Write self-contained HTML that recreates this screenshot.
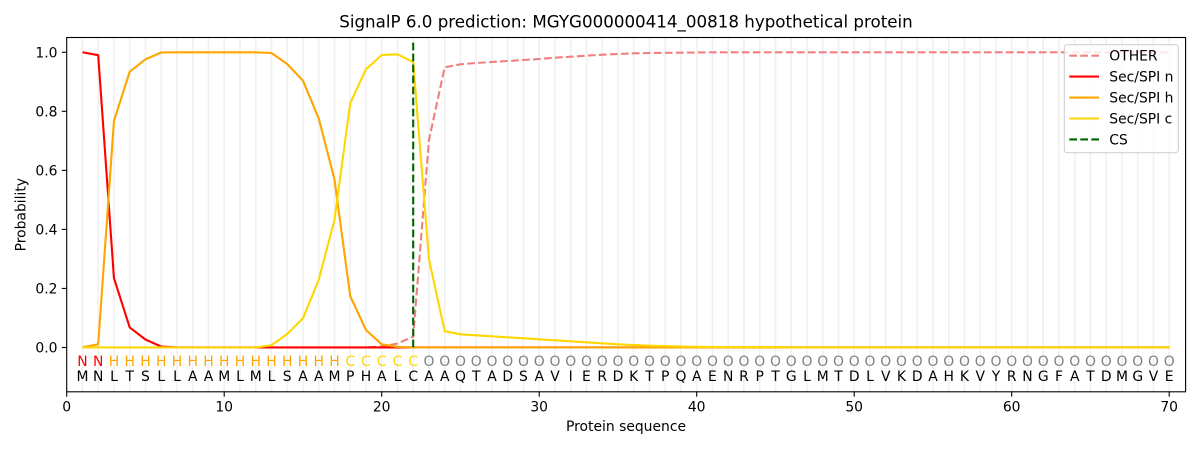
<!DOCTYPE html>
<html><head><meta charset="utf-8"><style>
html,body{margin:0;padding:0;background:#fff;}
svg{display:block;font-family:"DejaVu Sans","Liberation Sans",sans-serif;}
</style></head><body>
<svg width="1200" height="450" viewBox="0 0 1200 450" xmlns="http://www.w3.org/2000/svg">
<rect width="1200" height="450" fill="#fff"/>
<!-- grid -->
<g stroke="#f0f0f0" stroke-width="1.6">
<line x1="82.45" y1="37.5" x2="82.45" y2="391.8"/><line x1="98.2" y1="37.5" x2="98.2" y2="391.8"/><line x1="113.95" y1="37.5" x2="113.95" y2="391.8"/><line x1="129.7" y1="37.5" x2="129.7" y2="391.8"/><line x1="145.45" y1="37.5" x2="145.45" y2="391.8"/><line x1="161.2" y1="37.5" x2="161.2" y2="391.8"/><line x1="176.95" y1="37.5" x2="176.95" y2="391.8"/><line x1="192.7" y1="37.5" x2="192.7" y2="391.8"/><line x1="208.45" y1="37.5" x2="208.45" y2="391.8"/><line x1="224.2" y1="37.5" x2="224.2" y2="391.8"/>
<line x1="239.95" y1="37.5" x2="239.95" y2="391.8"/><line x1="255.7" y1="37.5" x2="255.7" y2="391.8"/><line x1="271.45" y1="37.5" x2="271.45" y2="391.8"/><line x1="287.2" y1="37.5" x2="287.2" y2="391.8"/><line x1="302.95" y1="37.5" x2="302.95" y2="391.8"/><line x1="318.7" y1="37.5" x2="318.7" y2="391.8"/><line x1="334.45" y1="37.5" x2="334.45" y2="391.8"/><line x1="350.2" y1="37.5" x2="350.2" y2="391.8"/><line x1="365.95" y1="37.5" x2="365.95" y2="391.8"/><line x1="381.7" y1="37.5" x2="381.7" y2="391.8"/>
<line x1="397.45" y1="37.5" x2="397.45" y2="391.8"/><line x1="413.2" y1="37.5" x2="413.2" y2="391.8"/><line x1="428.95" y1="37.5" x2="428.95" y2="391.8"/><line x1="444.7" y1="37.5" x2="444.7" y2="391.8"/><line x1="460.45" y1="37.5" x2="460.45" y2="391.8"/><line x1="476.2" y1="37.5" x2="476.2" y2="391.8"/><line x1="491.95" y1="37.5" x2="491.95" y2="391.8"/><line x1="507.7" y1="37.5" x2="507.7" y2="391.8"/><line x1="523.45" y1="37.5" x2="523.45" y2="391.8"/><line x1="539.2" y1="37.5" x2="539.2" y2="391.8"/>
<line x1="554.95" y1="37.5" x2="554.95" y2="391.8"/><line x1="570.7" y1="37.5" x2="570.7" y2="391.8"/><line x1="586.45" y1="37.5" x2="586.45" y2="391.8"/><line x1="602.2" y1="37.5" x2="602.2" y2="391.8"/><line x1="617.95" y1="37.5" x2="617.95" y2="391.8"/><line x1="633.7" y1="37.5" x2="633.7" y2="391.8"/><line x1="649.45" y1="37.5" x2="649.45" y2="391.8"/><line x1="665.2" y1="37.5" x2="665.2" y2="391.8"/><line x1="680.95" y1="37.5" x2="680.95" y2="391.8"/><line x1="696.7" y1="37.5" x2="696.7" y2="391.8"/>
<line x1="712.45" y1="37.5" x2="712.45" y2="391.8"/><line x1="728.2" y1="37.5" x2="728.2" y2="391.8"/><line x1="743.95" y1="37.5" x2="743.95" y2="391.8"/><line x1="759.7" y1="37.5" x2="759.7" y2="391.8"/><line x1="775.45" y1="37.5" x2="775.45" y2="391.8"/><line x1="791.2" y1="37.5" x2="791.2" y2="391.8"/><line x1="806.95" y1="37.5" x2="806.95" y2="391.8"/><line x1="822.7" y1="37.5" x2="822.7" y2="391.8"/><line x1="838.45" y1="37.5" x2="838.45" y2="391.8"/><line x1="854.2" y1="37.5" x2="854.2" y2="391.8"/>
<line x1="869.95" y1="37.5" x2="869.95" y2="391.8"/><line x1="885.7" y1="37.5" x2="885.7" y2="391.8"/><line x1="901.45" y1="37.5" x2="901.45" y2="391.8"/><line x1="917.2" y1="37.5" x2="917.2" y2="391.8"/><line x1="932.95" y1="37.5" x2="932.95" y2="391.8"/><line x1="948.7" y1="37.5" x2="948.7" y2="391.8"/><line x1="964.45" y1="37.5" x2="964.45" y2="391.8"/><line x1="980.2" y1="37.5" x2="980.2" y2="391.8"/><line x1="995.95" y1="37.5" x2="995.95" y2="391.8"/><line x1="1011.7" y1="37.5" x2="1011.7" y2="391.8"/>
<line x1="1027.45" y1="37.5" x2="1027.45" y2="391.8"/><line x1="1043.2" y1="37.5" x2="1043.2" y2="391.8"/><line x1="1058.95" y1="37.5" x2="1058.95" y2="391.8"/><line x1="1074.7" y1="37.5" x2="1074.7" y2="391.8"/><line x1="1090.45" y1="37.5" x2="1090.45" y2="391.8"/><line x1="1106.2" y1="37.5" x2="1106.2" y2="391.8"/><line x1="1121.95" y1="37.5" x2="1121.95" y2="391.8"/><line x1="1137.7" y1="37.5" x2="1137.7" y2="391.8"/><line x1="1153.45" y1="37.5" x2="1153.45" y2="391.8"/><line x1="1169.2" y1="37.5" x2="1169.2" y2="391.8"/>
</g>
<!-- OTHER -->
<polyline fill="none" stroke="#f08080" stroke-width="2.1" stroke-dasharray="7.7,3.3" points="82.45,347.5 365.95,347.5 381.7,346.5 397.45,343.5 413.2,336.7 428.95,140 444.7,67.3 460.45,64.3 476.2,63 491.95,62 507.7,61 523.45,60 539.2,59 554.95,57.7 570.7,56.7 586.45,55.7 602.2,54.7 617.95,54 633.7,53.3 649.45,53 665.2,52.8 680.95,52.7 696.7,52.5 712.45,52.3 1169.2,52.3"/>
<!-- Sec/SPI n -->
<polyline fill="none" stroke="#ff0000" stroke-width="2.1" stroke-linejoin="round" points="82.45,52.25 98.2,55.2 113.95,278.1 129.7,327.4 145.45,339.5 161.2,346.6 176.95,347.4 1169.2,347.4"/>
<!-- Sec/SPI h -->
<polyline fill="none" stroke="#ffa500" stroke-width="2.1" stroke-linejoin="round" points="82.45,347.3 98.2,344.3 113.95,121 129.7,71.7 145.45,59.3 161.2,52.5 176.95,52.3 255.7,52.3 271.45,53 287.2,64 302.95,80.7 318.7,118.3 334.45,179.3 350.2,296 365.95,330 381.7,344.3 397.45,346.8 413.2,347.4 1169.2,347.4"/>
<!-- Sec/SPI c -->
<polyline fill="none" stroke="#ffd700" stroke-width="2.1" stroke-linejoin="round" points="82.45,347.4 255.7,347.4 271.45,345.3 287.2,334 302.95,318.3 318.7,280 334.45,220 350.2,103.3 365.95,69.3 381.7,55 397.45,54.3 413.2,62 428.95,259.3 444.7,331.2 460.45,334.3 476.2,335.3 491.95,336.3 507.7,337.3 523.45,338.3 539.2,339.3 554.95,340.3 570.7,341.3 586.45,342.3 602.2,343.3 617.95,344.3 633.7,345 649.45,345.7 665.2,346.1 680.95,346.5 696.7,346.8 712.45,347 775.45,347.1 791.2,347.3 1169.2,347.3"/>
<!-- CS -->
<line x1="413.2" y1="347.3" x2="413.2" y2="40.5" stroke="#006400" stroke-width="2.1" stroke-dasharray="7.7,3.3"/>
<!-- spines -->
<rect x="66.7" y="37.5" width="1118.9" height="354.3" fill="none" stroke="#000" stroke-width="1.1"/>
<!-- y ticks -->
<g stroke="#000" stroke-width="1.1">
<line x1="61.8" y1="347.5" x2="66.7" y2="347.5"/><line x1="61.8" y1="288.45" x2="66.7" y2="288.45"/><line x1="61.8" y1="229.4" x2="66.7" y2="229.4"/><line x1="61.8" y1="170.35" x2="66.7" y2="170.35"/><line x1="61.8" y1="111.3" x2="66.7" y2="111.3"/><line x1="61.8" y1="52.25" x2="66.7" y2="52.25"/>
<line x1="66.7" y1="391.8" x2="66.7" y2="396.7"/><line x1="224.2" y1="391.8" x2="224.2" y2="396.7"/><line x1="381.7" y1="391.8" x2="381.7" y2="396.7"/><line x1="539.2" y1="391.8" x2="539.2" y2="396.7"/><line x1="696.7" y1="391.8" x2="696.7" y2="396.7"/><line x1="854.2" y1="391.8" x2="854.2" y2="396.7"/><line x1="1011.7" y1="391.8" x2="1011.7" y2="396.7"/><line x1="1169.2" y1="391.8" x2="1169.2" y2="396.7"/>
</g>
<g font-size="13.9" fill="#000" text-anchor="end">
<text x="57.5" y="352.5">0.0</text><text x="57.5" y="293.45">0.2</text><text x="57.5" y="234.4">0.4</text><text x="57.5" y="175.35">0.6</text><text x="57.5" y="116.3">0.8</text><text x="57.5" y="57.25">1.0</text>
</g>
<g font-size="13.9" fill="#000" text-anchor="middle">
<text x="66.7" y="411.7">0</text><text x="224.2" y="411.7">10</text><text x="381.7" y="411.7">20</text><text x="539.2" y="411.7">30</text><text x="696.7" y="411.7">40</text><text x="854.2" y="411.7">50</text><text x="1011.7" y="411.7">60</text><text x="1169.2" y="411.7">70</text>
<text x="626" y="431">Protein sequence</text>
</g>
<text transform="translate(25.5,214.7) rotate(-90)" font-size="13.9" text-anchor="middle">Probability</text>
<text x="626" y="27.7" font-size="16.7" text-anchor="middle">SignalP 6.0 prediction: MGYG000000414_00818 hypothetical protein</text>
<!-- residue labels -->
<g font-size="13.9" text-anchor="middle">
<text y="366" fill="#ff0000"><tspan x="82.45">N</tspan><tspan x="98.2">N</tspan></text>
<text y="366" fill="#ffa500"><tspan x="113.95">H</tspan><tspan x="129.7">H</tspan><tspan x="145.45">H</tspan><tspan x="161.2">H</tspan><tspan x="176.95">H</tspan><tspan x="192.7">H</tspan><tspan x="208.45">H</tspan><tspan x="224.2">H</tspan><tspan x="239.95">H</tspan><tspan x="255.7">H</tspan><tspan x="271.45">H</tspan><tspan x="287.2">H</tspan><tspan x="302.95">H</tspan><tspan x="318.7">H</tspan><tspan x="334.45">H</tspan></text>
<text y="366" fill="#ffd700"><tspan x="350.2">C</tspan><tspan x="365.95">C</tspan><tspan x="381.7">C</tspan><tspan x="397.45">C</tspan><tspan x="413.2">C</tspan></text>
<text y="366" fill="#808080"><tspan x="428.95">O</tspan><tspan x="444.7">O</tspan><tspan x="460.45">O</tspan><tspan x="476.2">O</tspan><tspan x="491.95">O</tspan><tspan x="507.7">O</tspan><tspan x="523.45">O</tspan><tspan x="539.2">O</tspan><tspan x="554.95">O</tspan><tspan x="570.7">O</tspan><tspan x="586.45">O</tspan><tspan x="602.2">O</tspan><tspan x="617.95">O</tspan><tspan x="633.7">O</tspan><tspan x="649.45">O</tspan><tspan x="665.2">O</tspan><tspan x="680.95">O</tspan><tspan x="696.7">O</tspan><tspan x="712.45">O</tspan><tspan x="728.2">O</tspan><tspan x="743.95">O</tspan><tspan x="759.7">O</tspan><tspan x="775.45">O</tspan><tspan x="791.2">O</tspan><tspan x="806.95">O</tspan><tspan x="822.7">O</tspan><tspan x="838.45">O</tspan><tspan x="854.2">O</tspan><tspan x="869.95">O</tspan><tspan x="885.7">O</tspan><tspan x="901.45">O</tspan><tspan x="917.2">O</tspan><tspan x="932.95">O</tspan><tspan x="948.7">O</tspan><tspan x="964.45">O</tspan><tspan x="980.2">O</tspan><tspan x="995.95">O</tspan><tspan x="1011.7">O</tspan><tspan x="1027.45">O</tspan><tspan x="1043.2">O</tspan><tspan x="1058.95">O</tspan><tspan x="1074.7">O</tspan><tspan x="1090.45">O</tspan><tspan x="1106.2">O</tspan><tspan x="1121.95">O</tspan><tspan x="1137.7">O</tspan><tspan x="1153.45">O</tspan><tspan x="1169.2">O</tspan></text>
<text y="381" fill="#000"><tspan x="82.45">M</tspan><tspan x="98.2">N</tspan><tspan x="113.95">L</tspan><tspan x="129.7">T</tspan><tspan x="145.45">S</tspan><tspan x="161.2">L</tspan><tspan x="176.95">L</tspan><tspan x="192.7">A</tspan><tspan x="208.45">A</tspan><tspan x="224.2">M</tspan><tspan x="239.95">L</tspan><tspan x="255.7">M</tspan><tspan x="271.45">L</tspan><tspan x="287.2">S</tspan><tspan x="302.95">A</tspan><tspan x="318.7">A</tspan><tspan x="334.45">M</tspan><tspan x="350.2">P</tspan><tspan x="365.95">H</tspan><tspan x="381.7">A</tspan><tspan x="397.45">L</tspan><tspan x="413.2">C</tspan><tspan x="428.95">A</tspan><tspan x="444.7">A</tspan><tspan x="460.45">Q</tspan><tspan x="476.2">T</tspan><tspan x="491.95">A</tspan><tspan x="507.7">D</tspan><tspan x="523.45">S</tspan><tspan x="539.2">A</tspan><tspan x="554.95">V</tspan><tspan x="570.7">I</tspan><tspan x="586.45">E</tspan><tspan x="602.2">R</tspan><tspan x="617.95">D</tspan><tspan x="633.7">K</tspan><tspan x="649.45">T</tspan><tspan x="665.2">P</tspan><tspan x="680.95">Q</tspan><tspan x="696.7">A</tspan><tspan x="712.45">E</tspan><tspan x="728.2">N</tspan><tspan x="743.95">R</tspan><tspan x="759.7">P</tspan><tspan x="775.45">T</tspan><tspan x="791.2">G</tspan><tspan x="806.95">L</tspan><tspan x="822.7">M</tspan><tspan x="838.45">T</tspan><tspan x="854.2">D</tspan><tspan x="869.95">L</tspan><tspan x="885.7">V</tspan><tspan x="901.45">K</tspan><tspan x="917.2">D</tspan><tspan x="932.95">A</tspan><tspan x="948.7">H</tspan><tspan x="964.45">K</tspan><tspan x="980.2">V</tspan><tspan x="995.95">Y</tspan><tspan x="1011.7">R</tspan><tspan x="1027.45">N</tspan><tspan x="1043.2">G</tspan><tspan x="1058.95">F</tspan><tspan x="1074.7">A</tspan><tspan x="1090.45">T</tspan><tspan x="1106.2">D</tspan><tspan x="1121.95">M</tspan><tspan x="1137.7">G</tspan><tspan x="1153.45">V</tspan><tspan x="1169.2">E</tspan></text>
</g>
<!-- legend -->
<rect x="1064.3" y="44.7" width="114" height="108" rx="3" ry="3" fill="#fff" fill-opacity="0.8" stroke="#cccccc" stroke-width="1"/>
<line x1="1069.3" y1="55.7" x2="1099" y2="55.7" stroke="#f08080" stroke-width="2.1" stroke-dasharray="7.7,3.3"/>
<line x1="1069.3" y1="76.6" x2="1099" y2="76.6" stroke="#ff0000" stroke-width="2.1"/>
<line x1="1069.3" y1="97.6" x2="1099" y2="97.6" stroke="#ffa500" stroke-width="2.1"/>
<line x1="1069.3" y1="118.5" x2="1099" y2="118.5" stroke="#ffd700" stroke-width="2.1"/>
<line x1="1069.3" y1="139.4" x2="1099" y2="139.4" stroke="#006400" stroke-width="2.1" stroke-dasharray="7.7,3.3"/>
<g font-size="13.9" fill="#000">
<text x="1109.3" y="60.7">OTHER</text>
<text x="1109.3" y="81.6">Sec/SPI n</text>
<text x="1109.3" y="102.6">Sec/SPI h</text>
<text x="1109.3" y="123.5">Sec/SPI c</text>
<text x="1109.3" y="144.4">CS</text>
</g>
</svg>
</body></html>
